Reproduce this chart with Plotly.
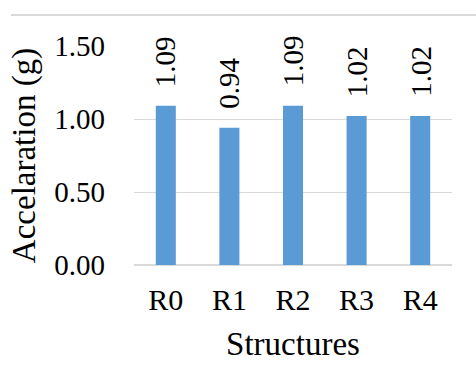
import plotly.graph_objects as go

structures = ["R0", "R1", "R2", "R3", "R4"]
acceleration = [1.09, 0.94, 1.09, 1.02, 1.02]
y_ticks = [0.0, 0.5, 1.0, 1.5]

FONT = "Times New Roman, Liberation Serif, serif"
BAR_COLOR = "#5b9bd5"
GRID = "#d9d9d9"

fig = go.Figure(
    go.Bar(
        x=structures,
        y=acceleration,
        marker=dict(color=BAR_COLOR, line=dict(width=0)),
        hoverinfo="skip",
    )
)

# value labels, rotated, sitting just above each bar
for name, val in zip(structures, acceleration):
    fig.add_annotation(
        x=name, y=val, text=f"{val:.2f}", textangle=-90,
        showarrow=False, yanchor="bottom", yshift=17,
        font=dict(family=FONT, size=29, color="#000000"),
    )

# thin frame line across the top of the chart
fig.add_shape(
    type="line", xref="paper", yref="paper",
    x0=-0.387, x1=1.1, y0=1.141, y1=1.141,
    line=dict(color=GRID, width=2),
)

fig.update_layout(
    width=476, height=392,
    margin=dict(l=134, r=24, t=46, b=127),
    paper_bgcolor="white", plot_bgcolor="white",
    bargap=0.685,
    showlegend=False,
    font=dict(family=FONT, size=29, color="#000000"),
)
fig.update_xaxes(
    showgrid=False, showline=False, ticks="",
    tickfont=dict(family=FONT, size=30),
    ticklabelstandoff=14,
    title=dict(text="Structures", font=dict(family=FONT, size=33), standoff=16),
)
fig.update_yaxes(
    range=[0, 1.5], tickvals=y_ticks, tickformat=".2f",
    showgrid=True, gridcolor=GRID, gridwidth=1,
    zeroline=True, zerolinecolor=GRID, zerolinewidth=2,
    showline=False, ticks="",
    tickfont=dict(family=FONT, size=29),
    ticklabelstandoff=28,
    title=dict(text="Accelaration (g)", font=dict(family=FONT, size=33), standoff=8),
)

fig.write_html("out.html")
